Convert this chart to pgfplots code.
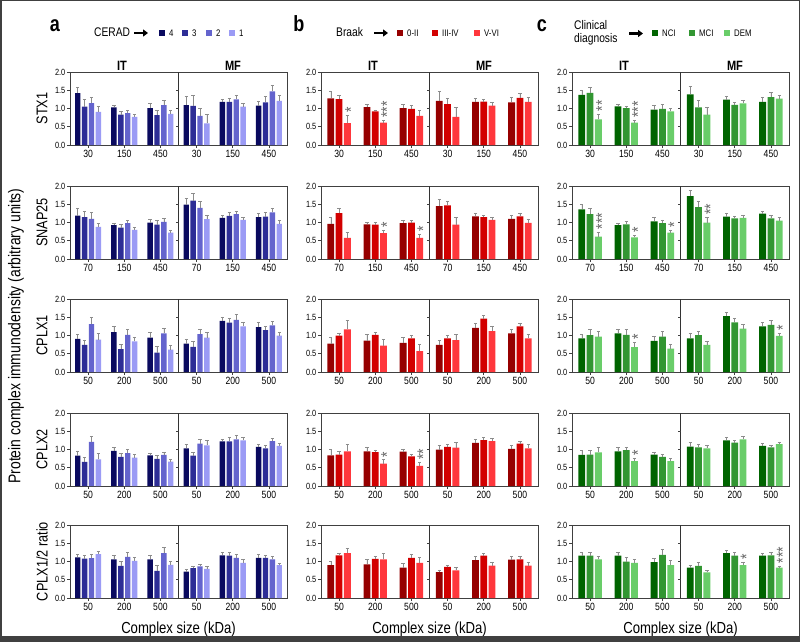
\documentclass[border=0pt]{standalone}
\usepackage{fontspec}
\setmainfont{Liberation Sans}[FakeStretch=0.82]
\usepackage{pgfplots}
\pgfplotsset{compat=1.18}
\usepackage{pgfplotstable}
\usetikzlibrary{arrows.meta}

\definecolor{aA}{RGB}{10,10,95}
\definecolor{aB}{RGB}{45,45,150}
\definecolor{aC}{RGB}{100,100,205}
\definecolor{aD}{RGB}{155,155,245}
\definecolor{bA}{RGB}{150,0,0}
\definecolor{bB}{RGB}{210,0,0}
\definecolor{bC}{RGB}{255,55,60}
\definecolor{cA}{RGB}{0,100,0}
\definecolor{cB}{RGB}{50,150,50}
\definecolor{cC}{RGB}{105,205,105}

\newcommand{\fs}[1]{\fontsize{#1}{#1}\selectfont}

% column a (CERAD 4,3,2,1): x 1-3 = IT, 4-6 = MF
\pgfplotstableread{
x m1 e1 m2 e2 m3 e3 m4 e4
1 1.42 .15 1.05 .19 1.15 .16 0.91 .16
2 1.03 .06 0.83 .10 0.87 .07 0.77 .07
3 1.01 .12 0.82 .14 1.09 .13 0.85 .09
4 1.09 .24 1.07 .29 0.80 .21 0.59 .24
5 1.18 .08 1.18 .10 1.25 .11 1.05 .09
6 1.08 .13 1.17 .17 1.47 .17 1.21 .15
}\STXa
\pgfplotstableread{
x m1 e1 m2 e2 m3 e3 m4 e4
1 1.19 .19 1.15 .17 1.10 .17 0.88 .10
2 0.93 .05 0.86 .10 0.98 .08 0.80 .07
3 1.00 .08 0.94 .12 1.02 .09 0.72 .08
4 1.49 .18 1.60 .20 1.40 .18 1.09 .11
5 1.13 .07 1.18 .09 1.23 .09 1.07 .06
6 1.15 .09 1.16 .11 1.28 .12 0.96 .11
}\SNAPa
\pgfplotstableread{
x m1 e1 m2 e2 m3 e3 m4 e4
1 0.91 .11 0.74 .13 1.31 .18 0.89 .16
2 1.09 .16 0.63 .13 1.02 .14 0.84 .12
3 0.94 .16 0.53 .17 1.06 .15 0.61 .13
4 0.78 .13 0.69 .14 1.04 .14 0.94 .15
5 1.40 .11 1.35 .12 1.43 .15 1.25 .12
6 1.23 .14 1.15 .10 1.28 .11 1.00 .10
}\CPAa
\pgfplotstableread{
x m1 e1 m2 e2 m3 e3 m4 e4
1 0.83 .13 0.66 .12 1.21 .15 0.73 .16
2 0.96 .10 0.80 .10 0.90 .10 0.78 .09
3 0.84 .07 0.74 .09 0.85 .08 0.67 .07
4 1.03 .10 0.83 .10 1.16 .12 1.11 .13
5 1.22 .06 1.22 .11 1.28 .10 1.25 .09
6 1.07 .08 1.03 .08 1.23 .08 1.10 .07
}\CPBa
\pgfplotstableread{
x m1 e1 m2 e2 m3 e3 m4 e4
1 1.11 .08 1.08 .09 1.09 .11 1.20 .08
2 1.06 .11 0.88 .13 1.13 .13 1.02 .10
3 1.06 .12 0.74 .16 1.23 .16 0.91 .11
4 0.72 .06 0.82 .05 0.87 .06 0.80 .06
5 1.17 .08 1.16 .10 1.10 .09 0.96 .09
6 1.10 .10 1.10 .07 1.06 .08 0.90 .06
}\RATa

% column b (Braak 0-II, III-IV, V-VI)
\pgfplotstableread{
x m1 e1 m2 e2 m3 e3
1 1.28 .20 1.26 .11 0.60 .22
2 1.04 .07 0.92 .04 0.61 .07
3 1.01 .11 0.99 .09 0.80 .15
4 1.21 .26 1.12 .16 0.77 .26
5 1.18 .09 1.19 .06 1.08 .09
6 1.17 .13 1.29 .12 1.18 .12
}\STXb
\pgfplotstableread{
x m1 e1 m2 e2 m3 e3
1 0.96 .18 1.26 .12 0.58 .15
2 0.95 .06 0.94 .06 0.71 .08
3 0.98 .08 1.00 .06 0.58 .09
4 1.45 .19 1.47 .11 0.94 .19
5 1.17 .08 1.15 .06 1.07 .08
6 1.10 .11 1.17 .07 0.99 .11
}\SNAPb
\pgfplotstableread{
x m1 e1 m2 e2 m3 e3
1 0.78 .16 1.00 .07 1.17 .24
2 0.86 .16 1.02 .07 0.72 .18
3 0.80 .14 0.92 .08 0.57 .18
4 0.74 .13 0.92 .08 0.87 .16
5 1.21 .13 1.46 .09 1.12 .12
6 1.06 .11 1.25 .09 0.92 .11
}\CPAb
\pgfplotstableread{
x m1 e1 m2 e2 m3 e3
1 0.84 .16 0.86 .10 0.95 .20
2 0.95 .12 0.93 .06 0.61 .11
3 0.94 .08 0.81 .06 0.55 .10
4 1.00 .12 1.07 .08 1.05 .14
5 1.18 .09 1.26 .07 1.23 .08
6 1.02 .09 1.16 .07 1.03 .10
}\CPBb
\pgfplotstableread{
x m1 e1 m2 e2 m3 e3
1 0.90 .11 1.17 .06 1.23 .12
2 0.92 .14 1.07 .07 1.06 .16
3 0.83 .12 1.10 .09 0.96 .16
4 0.71 .06 0.85 .04 0.76 .08
5 1.04 .11 1.16 .06 0.89 .10
6 1.05 .10 1.06 .08 0.89 .08
}\RATb

% column c (NCI, MCI, DEM)
\pgfplotstableread{
x m1 e1 m2 e2 m3 e3
1 1.37 .14 1.43 .15 0.70 .15
2 1.06 .06 1.01 .06 0.61 .07
3 0.97 .12 0.99 .12 0.92 .09
4 1.39 .21 1.03 .20 0.83 .20
5 1.24 .10 1.10 .07 1.14 .09
6 1.18 .13 1.31 .14 1.27 .08
}\STXc
\pgfplotstableread{
x m1 e1 m2 e2 m3 e3
1 1.36 .15 1.23 .16 0.61 .13
2 0.93 .06 0.95 .07 0.59 .06
3 1.03 .10 0.98 .09 0.72 .08
4 1.72 .16 1.42 .15 1.00 .14
5 1.16 .08 1.11 .07 1.13 .08
6 1.24 .08 1.11 .10 1.05 .08
}\SNAPc
\pgfplotstableread{
x m1 e1 m2 e2 m3 e3
1 0.92 .11 1.01 .15 0.97 .15
2 1.06 .10 1.02 .14 0.68 .13
3 0.85 .12 0.97 .14 0.64 .13
4 0.92 .14 1.01 .11 0.74 .11
5 1.53 .11 1.36 .11 1.19 .11
6 1.25 .11 1.29 .13 0.99 .07
}\CPAc
\pgfplotstableread{
x m1 e1 m2 e2 m3 e3
1 0.85 .12 0.86 .11 0.92 .14
2 0.95 .10 0.98 .08 0.68 .08
3 0.86 .07 0.80 .07 0.68 .07
4 1.08 .12 1.06 .09 1.03 .09
5 1.25 .08 1.19 .07 1.28 .07
6 1.10 .06 1.06 .06 1.15 .06
}\CPBc
\pgfplotstableread{
x m1 e1 m2 e2 m3 e3
1 1.16 .08 1.16 .10 1.06 .09
2 1.16 .09 1.00 .11 0.96 .10
3 0.98 .11 1.18 .16 0.90 .13
4 0.83 .07 0.88 .09 0.70 .05
5 1.23 .08 1.16 .10 0.90 .09
6 1.16 .06 1.17 .08 0.83 .05
}\RATc

\pgfplotsset{
  panel/.style={scale only axis, width=217pt, height=73pt, anchor=south west,
    xmin=0.5, xmax=6.5, ymin=0, ymax=2,
    xtick={1,...,6}, ytick={0,0.5,1,1.5,2},
    yticklabels={0.0,0.5,1.0,1.5,2.0},
    xtick pos=bottom, ytick pos=left, tick align=outside, major tick length=3pt,
    axis line style={black!75, line width=0.8pt},
    tick style={black!75, line width=0.7pt},
    xticklabel style={font=\fs{10.5}, inner sep=1.5pt},
    yticklabel style={font=\fs{9}, inner sep=1.5pt},
    clip=false},
  errs/.style={draw=none, error bars/y dir=plus, error bars/y explicit,
    error bars/error bar style={black!45, line width=0.55pt},
    error bars/error mark options={rotate=90, black!45, mark size=1.7pt, line width=0.55pt}},
}

\newcommand{\divider}{%
  \draw[black!80, line width=0.8pt] (axis cs:3.5,0) -- (axis cs:3.5,2);
  \draw[black!75, line width=0.7pt] (axis cs:3.5,0.5) -- ++(-2.5pt,0pt);
  \draw[black!75, line width=0.7pt] (axis cs:3.5,1) -- ++(-2.5pt,0pt);
  \draw[black!75, line width=0.7pt] (axis cs:3.5,1.5) -- ++(-2.5pt,0pt);}

% significance stars, stacked upward from the top of an error bar
\newcommand{\st}[3]{\node[xshift=3.5pt, yshift=2.5pt, rotate=90, anchor=west, inner sep=0pt,
  font=\fs{17}, text=black!60] at (axis cs:#1,#2) {#3};}

\newcommand{\panelA}[5]{%
\begin{axis}[panel, at={(#1pt,-#2pt)}, xticklabels={#4}, ybar=1.5pt, bar width=5.4pt]
\addplot[errs, fill=aA] table[x=x, y=m1, y error=e1] {#3};
\addplot[errs, fill=aB] table[x=x, y=m2, y error=e2] {#3};
\addplot[errs, fill=aC] table[x=x, y=m3, y error=e3] {#3};
\addplot[errs, fill=aD] table[x=x, y=m4, y error=e4] {#3};
\divider
#5
\end{axis}}

\newcommand{\panelB}[6]{%
\begin{axis}[panel, at={(#1pt,-#2pt)}, xticklabels={#4}, ybar=1.5pt, bar width=6.8pt]
\addplot[errs, fill=#5A] table[x=x, y=m1, y error=e1] {#3};
\addplot[errs, fill=#5B] table[x=x, y=m2, y error=e2] {#3};
\addplot[errs, fill=#5C] table[x=x, y=m3, y error=e3] {#3};
\divider
#6
\end{axis}}

\begin{document}
\begin{tikzpicture}
\useasboundingbox (0pt,0pt) rectangle (800pt,-642pt);
\fill[white] (0pt,0pt) rectangle (800pt,-642pt);

% column a
\panelA{70}{145}{\STXa}{30,150,450,30,150,450}{}
\panelA{70}{259}{\SNAPa}{70,150,450,70,150,450}{}
\panelA{70}{372}{\CPAa}{50,200,500,50,200,500}{}
\panelA{70}{486}{\CPBa}{50,200,500,50,200,500}{}
\panelA{70}{598}{\RATa}{50,200,500,50,200,500}{}

% column b
\panelB{321}{145}{\STXb}{30,150,450,30,150,450}{b}{\st{1.23}{0.82}{*}\st{2.23}{0.68}{***}}
\panelB{321}{259}{\SNAPb}{70,150,450,70,150,450}{b}{\st{2.23}{0.79}{*}\st{3.23}{0.67}{*}}
\panelB{321}{372}{\CPAb}{50,200,500,50,200,500}{b}{}
\panelB{321}{486}{\CPBb}{50,200,500,50,200,500}{b}{\st{2.23}{0.72}{*}\st{3.23}{0.65}{**}}
\panelB{321}{598}{\RATb}{50,200,500,50,200,500}{b}{}

% column c
\panelB{572}{145}{\STXc}{30,150,450,30,150,450}{c}{\st{1.23}{0.85}{**}\st{2.23}{0.68}{***}}
\panelB{572}{259}{\SNAPc}{70,150,450,70,150,450}{c}{\st{1.23}{0.74}{***}\st{2.23}{0.65}{*}\st{3.23}{0.80}{*}\st{4.23}{1.14}{**}}
\panelB{572}{372}{\CPAc}{50,200,500,50,200,500}{c}{\st{2.23}{0.81}{*}\st{6.23}{1.06}{*}}
\panelB{572}{486}{\CPBc}{50,200,500,50,200,500}{c}{\st{2.23}{0.76}{*}}
\panelB{572}{598}{\RATc}{50,200,500,50,200,500}{c}{\st{5.23}{0.99}{*}\st{6.23}{0.88}{***}}

% row labels
\node[rotate=90, font=\fs{15.5}] at (42pt,-108.5pt) {STX1};
\node[rotate=90, font=\fs{15.5}] at (42pt,-222.5pt) {SNAP25};
\node[rotate=90, font=\fs{15.5}] at (42pt,-335.5pt) {CPLX1};
\node[rotate=90, font=\fs{15.5}] at (42pt,-449.5pt) {CPLX2};
\node[rotate=90, font=\fs{15.5}] at (42pt,-561.5pt) {CPLX1/2 ratio};
\node[rotate=90, font=\fs{17}] at (16pt,-336pt) {Protein complex immunodensity (arbitrary units)};

% x labels
\foreach \cx in {178.5,429.5,680.5}
  \node[anchor=base, font=\fs{16}] at (\cx pt,-633pt) {Complex size (kDa)};

% IT / MF
\foreach \cx/\t in {122/IT,233/MF,373/IT,484/MF,624/IT,735/MF}
  \node[anchor=base, font=\bfseries\fs{13.5}] at (\cx pt,-70.5pt) {\t};

% panel letters
\node[anchor=base, font=\bfseries\fs{22}] at (55pt,-32pt) {a};
\node[anchor=base, font=\bfseries\fs{22}] at (299pt,-32pt) {b};
\node[anchor=base, font=\bfseries\fs{22}] at (542pt,-32pt) {c};

% legend a
\node[anchor=base west, inner sep=0pt, font=\fs{12.5}] at (94pt,-37pt) {CERAD};
\draw[line width=2.2pt, -{Triangle[length=5pt,width=7pt]}] (134pt,-33pt) -- (148pt,-33pt);
\foreach \lx/\c/\t in {159/aA/4,182/aB/3,206/aC/2,229/aD/1}{
  \fill[\c] (\lx pt,-30.5pt) rectangle ++(6pt,-6pt);
  \node[anchor=base west, inner sep=0pt, font=\fs{9.5}] at (\lx pt+10pt,-36.5pt) {\t};}

% legend b
\node[anchor=base west, inner sep=0pt, font=\fs{12.5}] at (336pt,-37pt) {Braak};
\draw[line width=2.2pt, -{Triangle[length=5pt,width=7pt]}] (374pt,-33pt) -- (388pt,-33pt);
\foreach \lx/\c/\t in {397/bA/0-II,432/bB/III-IV,474/bC/V-VI}{
  \fill[\c] (\lx pt,-30.5pt) rectangle ++(6pt,-6pt);
  \node[anchor=base west, inner sep=0pt, font=\fs{9.5}] at (\lx pt+10pt,-36.5pt) {\t};}

% legend c
\node[anchor=base west, inner sep=0pt, font=\fs{12.5}] at (574pt,-30pt) {Clinical};
\node[anchor=base west, inner sep=0pt, font=\fs{12.5}] at (574pt,-43pt) {diagnosis};
\draw[line width=2.2pt, -{Triangle[length=5pt,width=7pt]}] (629pt,-33.5pt) -- (643pt,-33.5pt);
\foreach \lx/\c/\t in {652/cA/NCI,689/cB/MCI,724/cC/DEM}{
  \fill[\c] (\lx pt,-30.5pt) rectangle ++(6pt,-6pt);
  \node[anchor=base west, inner sep=0pt, font=\fs{9.5}] at (\lx pt+10pt,-36.5pt) {\t};}

% frame
\draw[black!75, line width=1.5pt] (0.75pt,-0.75pt) rectangle (799.25pt,-641.25pt);
\fill[black!75] (0pt,-636pt) rectangle (800pt,-642pt);
\end{tikzpicture}
\end{document}
